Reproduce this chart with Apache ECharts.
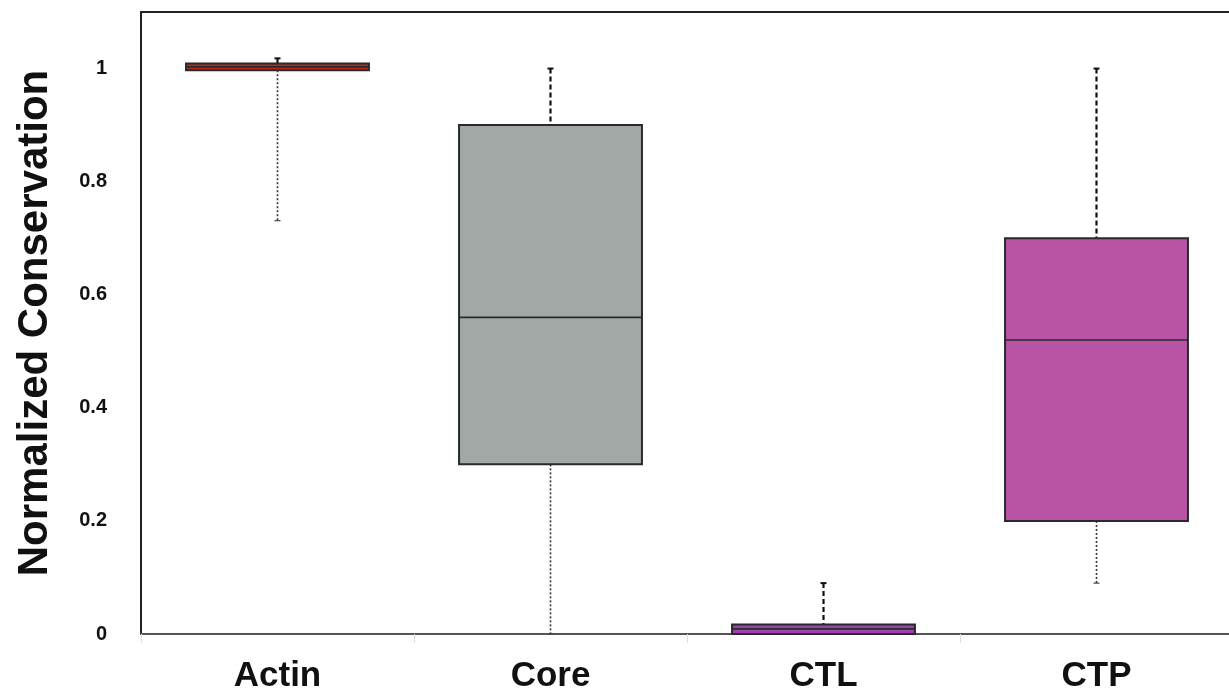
<!DOCTYPE html>
<html>
<head>
<meta charset="utf-8">
<script src="https://cdn.jsdelivr.net/npm/echarts@6/dist/echarts.min.js"></script>
<style>
  html, body { margin: 0; padding: 0; background: #fff; }
  #chart { width: 1229px; height: 692px; }
</style>
</head>
<body>
<div id="chart"></div>
<script>
// Five-number summaries per group
const categories = ['Actin', 'Core', 'CTL', 'CTP'];
const lowerWhisker = [0.731, 0.0, 0.0, 0.09];
const q1 = [0.997, 0.30, 0.0, 0.20];
const median = [1.003, 0.56, 0.009, 0.52];
const q3 = [1.009, 0.90, 0.017, 0.70];
const upperWhisker = [1.018, 1.0, 0.09, 1.0];
const boxColors = ['#b8281c', '#a1a8a6', '#9b42b1', '#b853a6'];
const yTicks = [0, 0.2, 0.4, 0.6, 0.8, 1];

const rows = categories.map((c, i) => [i, lowerWhisker[i], q1[i], median[i], q3[i], upperWhisker[i]]);

const FONT = '"Liberation Sans", Arial, Helvetica, sans-serif';

function renderBox(params, api) {
  const idx = api.value(0);
  const bandW = api.size([1, 0])[0];
  const boxW = bandW * 0.67;
  const lo = api.coord([idx, api.value(1)]);
  const p1 = api.coord([idx, api.value(2)]);
  const pm = api.coord([idx, api.value(3)]);
  const p3 = api.coord([idx, api.value(4)]);
  const hi = api.coord([idx, api.value(5)]);
  const cx = lo[0];
  const left = cx - boxW / 2;
  const children = [];
  const capHalf = 3;
  // lower whisker (dotted)
  if (lo[1] - p1[1] > 0.5) {
    children.push({
      type: 'line',
      shape: { x1: cx, y1: p1[1], x2: cx, y2: lo[1] },
      style: { stroke: '#333', lineWidth: 1.6, lineDash: [2, 2] }
    });
    children.push({
      type: 'line',
      shape: { x1: cx - capHalf, y1: lo[1], x2: cx + capHalf, y2: lo[1] },
      style: { stroke: '#444', lineWidth: 1.2 }
    });
  }
  // upper whisker (dashed)
  if (p3[1] - hi[1] > 0.5) {
    children.push({
      type: 'line',
      shape: { x1: cx, y1: hi[1], x2: cx, y2: p3[1] },
      style: { stroke: '#111', lineWidth: 2.2, lineDash: [5, 3] }
    });
    children.push({
      type: 'line',
      shape: { x1: cx - capHalf, y1: hi[1], x2: cx + capHalf, y2: hi[1] },
      style: { stroke: '#111', lineWidth: 2 }
    });
  }
  // box
  children.push({
    type: 'rect',
    shape: { x: left, y: p3[1], width: boxW, height: Math.max(p1[1] - p3[1], 1) },
    style: { fill: boxColors[idx], stroke: '#2a2a2a', lineWidth: 2 }
  });
  // median
  children.push({
    type: 'line',
    shape: { x1: left, y1: pm[1], x2: left + boxW, y2: pm[1] },
    style: { stroke: '#2a2a2a', lineWidth: 1.6 }
  });
  return { type: 'group', children };
}

const chart = echarts.init(document.getElementById('chart'), null, { renderer: 'canvas' });
chart.setOption({
  animation: false,
  backgroundColor: '#fff',
  grid: {
    left: 141, top: 12, width: 1092, height: 622,
    outerBoundsMode: 'none',
    containLabel: false,
    show: true, borderColor: '#222', borderWidth: 2, backgroundColor: 'transparent'
  },
  xAxis: {
    type: 'category',
    data: categories,
    axisLine: { show: true, lineStyle: { color: '#555', width: 2 } },
    axisTick: { show: true, length: 9, lineStyle: { color: '#ddd', width: 1 } },
    axisLabel: { color: '#111', fontFamily: FONT, fontWeight: 'bold', fontSize: 35, margin: 25 },
    splitLine: { show: false }
  },
  yAxis: {
    type: 'value',
    min: 0, max: 1.1, interval: 0.2,
    name: 'Normalized Conservation',
    nameLocation: 'middle',
    nameGap: 85,
    nameTextStyle: { color: '#111', fontFamily: FONT, fontWeight: 'bold', fontSize: 42 },
    axisLine: { show: true, lineStyle: { color: '#222', width: 2 } },
    axisTick: { show: false },
    splitLine: { show: false },
    axisLabel: {
      color: '#111', fontFamily: FONT, fontWeight: 'bold', fontSize: 20, margin: 34,
      showMaxLabel: false,
      formatter: v => (yTicks.some(t => Math.abs(t - v) < 1e-9) ? String(+v.toFixed(1)) : '')
    }
  },
  series: [{
    type: 'custom',
    renderItem: renderBox,
    encode: { x: 0, y: [1, 2, 3, 4, 5] },
    data: rows,
    clip: false
  }]
});
</script>
</body>
</html>
